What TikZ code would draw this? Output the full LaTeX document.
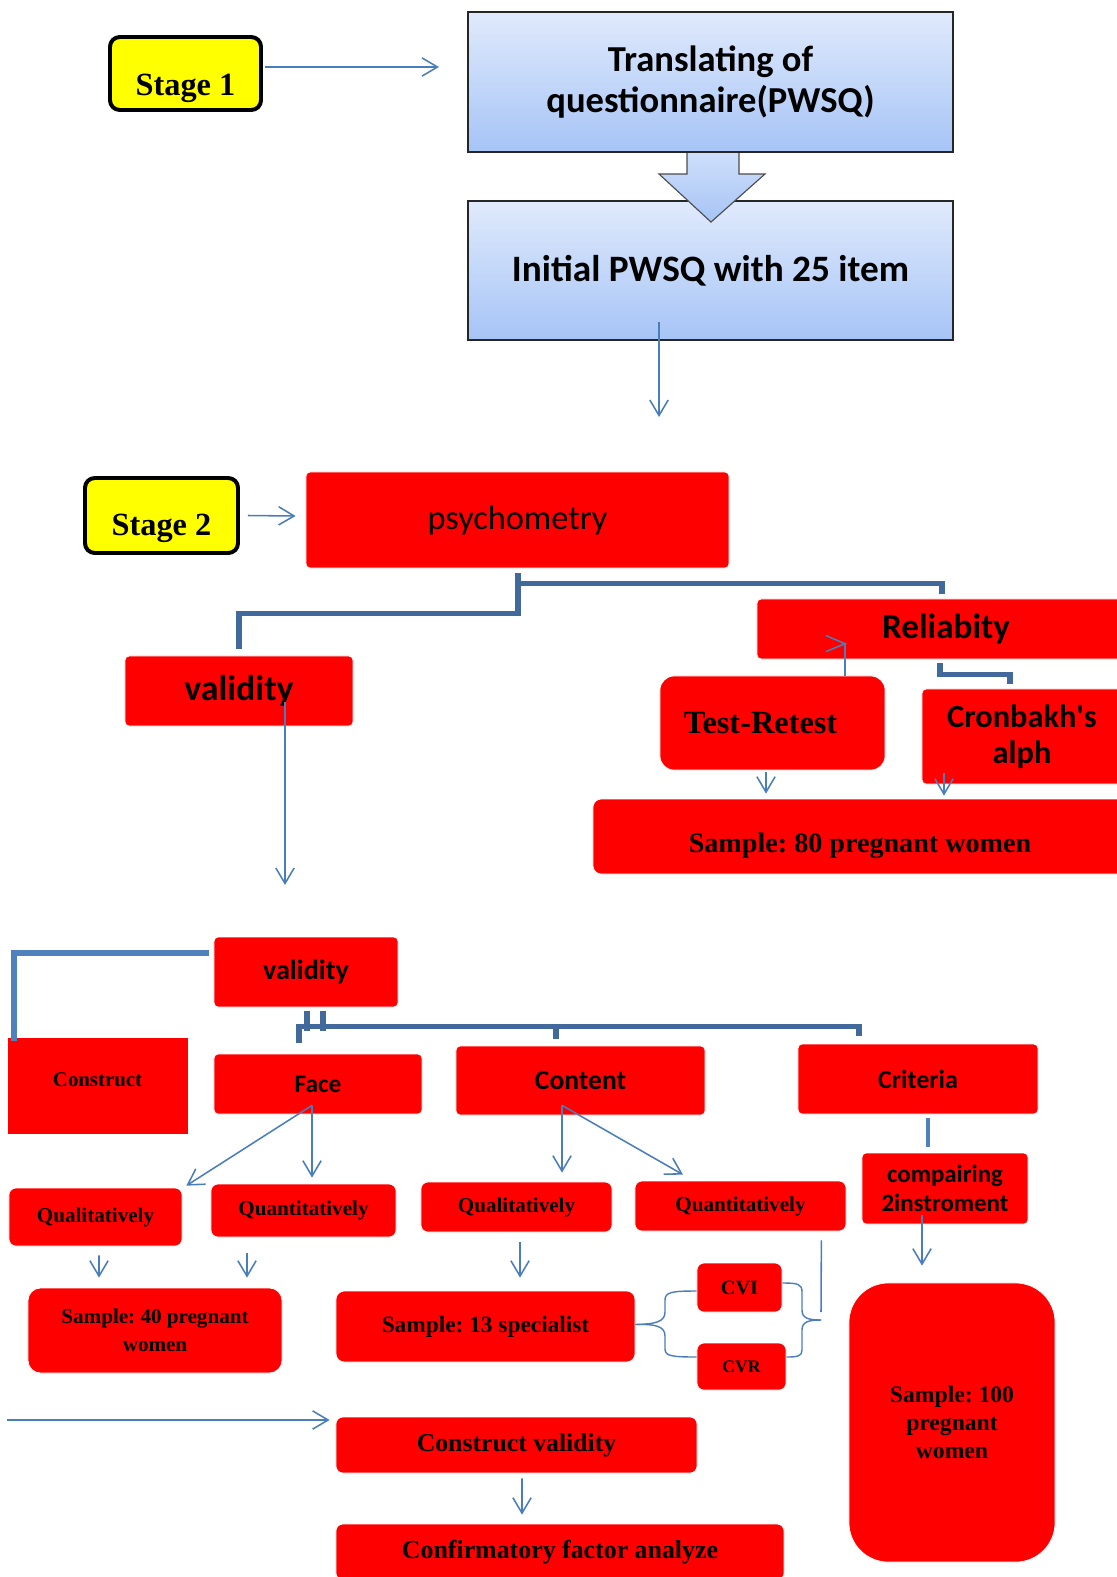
\documentclass[tikz,border=0pt]{standalone}
\usepackage{fontspec}
\setmainfont{Liberation Serif}
\newfontfamily\calfont{Carlito}
\usetikzlibrary{arrows.meta,calc}

\definecolor{boxred}{RGB}{255,0,0}
\definecolor{stageyellow}{RGB}{255,255,0}
\definecolor{linkblue}{RGB}{74,126,187}
\definecolor{trunkblue}{RGB}{65,105,156}
\definecolor{branchblue}{RGB}{79,129,189}
\definecolor{paletop}{RGB}{224,234,252}
\definecolor{palebottom}{RGB}{166,196,246}

\tikzset{
  redbox/.style={fill=boxred, draw=white, line width=0.5pt, rounded corners=3pt, align=center, inner sep=0pt},
  stagebox/.style={fill=stageyellow, draw=black, line width=2.8pt, rounded corners=7pt, inner sep=0pt,
    font=\bfseries\fontsize{23}{26}\selectfont},
  bluebox/.style={top color=paletop, bottom color=palebottom, draw=black!85, line width=1.4pt, align=center, inner sep=0pt},
  conn/.style={draw=linkblue, line width=1.1pt},
  arr/.style={conn, -{Straight Barb[length=11pt,width=13pt]}},
  trunk/.style={draw=trunkblue, line width=3.6pt},
  branch/.style={draw=branchblue, line width=3.6pt},
  brace/.style={draw=linkblue, line width=1pt},
  serifb/.style={font=\bfseries\fontsize{#1}{#1}\selectfont},
  calb/.style={font=\calfont\bfseries\fontsize{#1}{#1}\selectfont},
}

\begin{document}
\frenchspacing
\begin{tikzpicture}[x=0.025cm,y=-0.025cm]
\useasboundingbox (0,0) rectangle (1117,1577);

\node[stagebox, minimum width=3.775cm, minimum height=1.825cm, text height=36pt, text depth=5pt] (stage1) at (185.5,73.5) {Stage 1};
\node[bluebox, minimum width=12.125cm, minimum height=3.5cm, font=\calfont\bfseries\fontsize{26}{29}\selectfont] (trans) at (710.5,82) {Translating of\\questionnaire(PWSQ)};
\node[bluebox, minimum width=12.125cm, minimum height=3.475cm, calb=26.5] (init) at (710.5,270.5) {Initial PWSQ with 25 item};

\path[top color=paletop!70!palebottom, bottom color=palebottom, draw=black!70, line width=0.8pt]
  ($(trans.south)+(-23.5,0)$) -- ++(0,21) -- ++(-28,0) -- ($(init.north)+(0.5,22)$)
  -- ($(trans.south)+(54.5,21)$) -- ++(-26,0) -- ++(0,-21);

\node[stagebox, minimum width=3.825cm, minimum height=1.875cm, text height=33pt, text depth=5pt] (stage2) at (161.5,515.5) {Stage 2};
\node[redbox, minimum width=10.575cm, minimum height=2.4cm, font=\calfont\fontsize{24.4}{24.4}\selectfont] (psych) at (517.5,520) {psychometry};

\node[redbox, minimum width=9.45cm, minimum height=1.5cm, calb=25] (relia) at (946,629) {Reliabity};
\node[redbox, minimum width=5.7cm, minimum height=1.75cm, calb=25.5] (valid1) at (239,691) {validity};
\node[redbox, rounded corners=10pt, minimum width=5.625cm, minimum height=2.35cm, serifb=23] (test) at (772.5,723) {Test-Retest\hspace*{17pt}};
\node[redbox, minimum width=5cm, minimum height=2.375cm, font=\calfont\bfseries\fontsize{23}{25.6}\selectfont] (cron) at (1022,736.5) {Cronbakh's\\alph};
\node[redbox, rounded corners=6pt, minimum width=13.35cm, minimum height=1.875cm, serifb=20, text height=27pt, text depth=4.4pt] (samp80) at (860,836.5) {Sample: 80 pregnant women};

\node[redbox, minimum width=4.6cm, minimum height=1.75cm, calb=20] (valid2) at (306,972) {validity};
\node[redbox, sharp corners, minimum width=4.525cm, minimum height=2.425cm, serifb=14.8, text height=10pt, text depth=8.6pt] (constr) at (97.5,1085.5) {Construct};
\node[redbox, minimum width=5.2cm, minimum height=1.5cm, calb=18] (face) at (318,1084) {Face};
\node[redbox, minimum width=6.225cm, minimum height=1.725cm, calb=19.6] (content) at (580.5,1080.5) {Content};
\node[redbox, minimum width=6cm, minimum height=1.75cm, calb=18.5] (crit) at (918,1079) {Criteria};
\node[redbox, minimum width=4.15cm, minimum height=1.775cm, font=\calfont\bfseries\fontsize{17.7}{20.5}\selectfont] (comp) at (945,1188.5) {compairing\\2instroment};

\node[redbox, rounded corners=5pt, minimum width=4.325cm, minimum height=1.45cm, serifb=15] (qual1) at (95.5,1217) {Qualitatively};
\node[redbox, rounded corners=5pt, minimum width=4.625cm, minimum height=1.325cm, serifb=15] (quan1) at (303.5,1210.5) {Quantitatively};
\node[redbox, rounded corners=5pt, minimum width=4.775cm, minimum height=1.25cm, serifb=15] (qual2) at (516.5,1207) {Qualitatively};
\node[redbox, rounded corners=5pt, minimum width=5.275cm, minimum height=1.25cm, serifb=15] (quan2) at (740.5,1206) {Quantitatively};

\node[redbox, rounded corners=9pt, minimum width=6.35cm, minimum height=2.125cm, font=\bfseries\fontsize{15}{20}\selectfont] (samp40) at (155,1330.5) {Sample: 40 pregnant\\women};
\node[redbox, rounded corners=6pt, minimum width=7.475cm, minimum height=1.775cm, serifb=16.6] (samp13) at (485.5,1326.5) {Sample: 13 specialist};
\node[redbox, rounded corners=5pt, minimum width=2.125cm, minimum height=1.225cm, serifb=14.4] (cvi) at (739.5,1287.5) {CVI};
\node[redbox, rounded corners=5pt, minimum width=2.225cm, minimum height=1.175cm, serifb=12.5] (cvr) at (741.5,1366.5) {CVR};
\node[redbox, rounded corners=28pt, minimum width=5.15cm, minimum height=6.975cm, font=\bfseries\fontsize{16.8}{20}\selectfont] (samp100) at (952,1422.5) {Sample: 100\\pregnant\\women};
\node[redbox, rounded corners=5pt, minimum width=9.025cm, minimum height=1.4cm, serifb=18.3] (cvalid) at (516.5,1445) {Construct validity};
\node[redbox, rounded corners=5pt, minimum width=11.2cm, minimum height=1.4cm, serifb=18.4] (cfa) at (560,1552) {Confirmatory factor analyze};

\coordinate (initend) at (659,417);
\coordinate (valid1end) at (285,885);
\coordinate (leftstart) at (7,1420);
\coordinate (quan2end) at (821,1312);

\draw[arr] ($(stage1.east)+(2,-6.5)$) -- ($(trans.west)+(-28,-15)$);
\draw[arr] ($(init.center)+(-51.5,51.5)$) -- (initend);
\draw[arr] ($(stage2.east)+(8,0)$) -- ($(psych.west)+(-10,-4)$);

\draw[trunk] ($(psych.south)+(0.5,5)$) -- ++(0,40) -| ($(valid1.north)+(0,-7)$);
\draw[trunk] ($(psych.south)+(0.5,15)$) -| ($(relia.north)+(-4,-5)$);
\draw[trunk] ($(relia.south)+(-6,4)$) -- ++(0,11) -| ($(cron.north)+(-12,-5)$);

\draw[arr] ($(valid1.center)+(46,11)$) -- (valid1end);
\coordinate (tip) at ($(test.north)+(72.5,-32)$);
\draw[conn] (test.north -| tip) -- (tip);
\draw[conn] ($(tip)+(-19,-8)$) -- (tip) -- ($(tip)+(-19,8)$);
\draw[arr] ($(test.south)+(-6.5,2)$) -- ($(samp80.north)+(-94,-5)$);
\draw[arr] ($(cron.south)+(-78,-11)$) -- ($(samp80.north)+(84,-3)$);

\draw[branch] ($(valid2.west)+(-5,-19)$) -| ($(constr.north)+(-83.5,4)$);
\draw[trunk] ($(valid2.south)+(1,4)$) -- ++(0,20);
\draw[trunk] ($(valid2.south)+(17,4)$) -- ++(0,20);
\draw[trunk] ($(face.north)+(-19,-11)$) -- ++(0,-16) -| ($(crit.north)+(-59,-8)$);
\draw[trunk] ($(content.north)+(-24.5,-7)$) -- ++(0,-12);
\draw[branch, line width=3pt] ($(crit.south)+(10,4)$) -- ($(comp.north)+(-17,-6)$);

\draw[arr] ($(face.south)+(-6,-9)$) -- ($(qual1.north east)+(4,-2)$);
\draw[arr] ($(face.south)+(-6,-9)$) -- ($(quan1.north)+(8.5,-6)$);
\draw[arr] ($(content.south)+(-18.5,-10)$) -- ($(qual2.north)+(45.5,-9)$);
\draw[arr] ($(content.south)+(-18.5,-10)$) -- ($(quan2.north)+(-57.5,-6)$);
\draw[arr] ($(comp.south)+(-23,-9)$) -- ($(samp100.north)+(-30,-17)$);

\draw[arr] ($(qual1.south)+(3.5,9)$) -- ($(samp40.north)+(-56,-10)$);
\draw[arr] ($(quan1.south)+(-56.5,16)$) -- ($(samp40.north)+(92,-10)$);
\draw[arr] ($(qual2.south)+(3.5,10)$) -- ($(samp13.north)+(34.5,-13)$);
\draw[conn] ($(quan2.south east)+(-25,9)$) -- (quan2end);

\draw[brace] ($(samp13.east)+(0,-2)$) .. controls (655,1324) and (665,1322) .. (665,1312) -- (665,1300)
  .. controls (665,1292) and (672,1291) .. ($(cvi.west)+(0,3.5)$);
\draw[brace] ($(samp13.east)+(0,-2)$) .. controls (655,1324) and (665,1326) .. (665,1336) -- (665,1349)
  .. controls (665,1356) and (672,1357) .. ($(cvr.west)+(0,-9.5)$);
\draw[brace] ($(cvi.east)+(0,-4.5)$) .. controls (798,1283) and (802,1284) .. (802,1292) -- (802,1310)
  .. controls (802,1318) and (808,1320) .. (821,1320);
\draw[brace] (821,1320) .. controls (808,1320) and (802,1322) .. (802,1330) -- (802,1350)
  .. controls (802,1356) and (798,1357) .. ($(cvr.east)+(0,-9.5)$);

\draw[arr] (leftstart) -- ($(cvalid.west)+(-6,-25)$);
\draw[arr] ($(cvalid.south)+(5.5,5)$) -- ($(cfa.north)+(-38,-9)$);
\end{tikzpicture}
\end{document}
